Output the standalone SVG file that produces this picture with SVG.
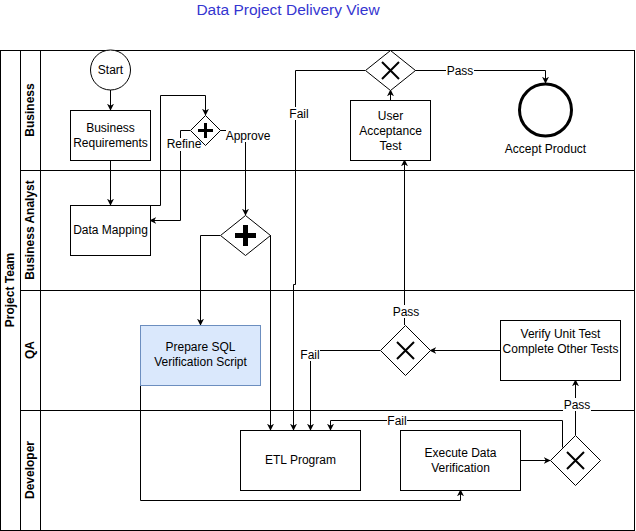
<svg xmlns="http://www.w3.org/2000/svg" width="636" height="531" viewBox="0 0 636 531">
<style>
text{font-family:"Liberation Sans",Arial,sans-serif;font-size:12px;fill:#000}
.title{font-size:15.5px;fill:#3535D0}
.lane{font-weight:bold}
.box{fill:#fff;stroke:#000;stroke-width:1}
.gw{fill:#fff;stroke:#000;stroke-width:1}
.c{fill:none;stroke:#000;stroke-width:1}
.lbl{fill:#fff}
.sym{stroke:#000;stroke-width:3;fill:none}
</style>
<defs>
<marker id="arr" viewBox="0 0 10 10" refX="9" refY="5" markerWidth="7" markerHeight="7" orient="auto-start-reverse" markerUnits="userSpaceOnUse">
<path d="M0,0 L10,5 L0,10 L3,5 Z" fill="#000"/>
</marker>
</defs>
<rect width="636" height="531" fill="#fff"/>
<text class="title" x="288" y="15" text-anchor="middle">Data Project Delivery View</text>

<g id="pool">
<rect x="0.5" y="50.5" width="634" height="480" fill="none" stroke="#000"/>
<line x1="20.5" y1="50" x2="20.5" y2="531" stroke="#000"/>
<line x1="40.5" y1="50" x2="40.5" y2="531" stroke="#000"/>
<line x1="20" y1="170.5" x2="635" y2="170.5" stroke="#000"/>
<line x1="20" y1="290.5" x2="635" y2="290.5" stroke="#000"/>
<line x1="20" y1="410.5" x2="635" y2="410.5" stroke="#000"/>
<text class="lane" transform="translate(14,290) rotate(-90)" text-anchor="middle">Project Team</text>
<text class="lane" transform="translate(34,110) rotate(-90)" text-anchor="middle">Business</text>
<text class="lane" transform="translate(34,230) rotate(-90)" text-anchor="middle">Business Analyst</text>
<text class="lane" transform="translate(34,350) rotate(-90)" text-anchor="middle">QA</text>
<text class="lane" transform="translate(34,470) rotate(-90)" text-anchor="middle">Developer</text>
</g>

<g id="connectors">
<path class="c" d="M110.5,90 V110" marker-end="url(#arr)"/>
<path class="c" d="M110.5,160 V205" marker-end="url(#arr)"/>
<path class="c" d="M150,205.5 H160.5 V95.5 H205.5 V115" marker-end="url(#arr)"/>
<path class="c" d="M190,130.5 H180.5 V220.5 H150" marker-end="url(#arr)"/>
<path class="c" d="M220,130.5 H245.5 V215" marker-end="url(#arr)"/>
<path class="c" d="M220,235.5 H200.5 V325" marker-end="url(#arr)"/>
<path class="c" d="M270.5,235 V430" marker-end="url(#arr)"/>
<path class="c" d="M140.5,385 V500.5 H460.5 V490" marker-end="url(#arr)"/>
<path class="c" d="M520,460.5 H550" marker-end="url(#arr)"/>
<path class="c" d="M562.5,447.5 V420.5 H330.5 V430" marker-end="url(#arr)"/>
<path class="c" d="M575.5,435 V380" marker-end="url(#arr)"/>
<path class="c" d="M500,350.5 H430" marker-end="url(#arr)"/>
<path class="c" d="M380,350.5 H310.5 V430" marker-end="url(#arr)"/>
<path class="c" d="M404.5,325 V160" marker-end="url(#arr)"/>
<path class="c" d="M390.5,100 V90" marker-end="url(#arr)"/>
<path class="c" d="M365,70.5 H295.5 V284.5 H293.5 V430" marker-end="url(#arr)"/>
<path class="c" d="M415,70.5 H545.5 V83" marker-end="url(#arr)"/>
<rect class="lbl" x="166" y="138" width="36" height="13"/>
<text x="184" y="148" text-anchor="middle">Refine</text>
<rect class="lbl" x="226" y="129" width="44" height="13"/>
<text x="248" y="140" text-anchor="middle">Approve</text>
<rect class="lbl" x="446" y="64" width="28" height="13"/>
<text x="460" y="75" text-anchor="middle">Pass</text>
<rect class="lbl" x="289" y="107" width="20" height="13"/>
<text x="299" y="118" text-anchor="middle">Fail</text>
<rect class="lbl" x="391" y="305" width="28" height="13"/>
<text x="406" y="316" text-anchor="middle">Pass</text>
<rect class="lbl" x="300" y="348" width="20" height="13"/>
<text x="310" y="359" text-anchor="middle">Fail</text>
<rect class="lbl" x="387" y="414" width="20" height="13"/>
<text x="397" y="425" text-anchor="middle">Fail</text>
<rect class="lbl" x="563" y="398" width="28" height="13"/>
<text x="577" y="409" text-anchor="middle">Pass</text>
</g>

<g id="start">
<circle cx="110.5" cy="70" r="20" fill="#fff" stroke="#000"/>
<text x="110.5" y="74" text-anchor="middle">Start</text>
</g>
<g id="business-requirements">
<rect class="box" x="70.5" y="110.5" width="80" height="50"/>
<text x="110.5" y="132" text-anchor="middle">Business</text>
<text x="110.5" y="147" text-anchor="middle">Requirements</text>
</g>
<g id="data-mapping">
<rect class="box" x="70.5" y="205.5" width="80" height="50"/>
<text x="110.5" y="234" text-anchor="middle">Data Mapping</text>
</g>
<g id="gateway-refine">
<path class="gw" d="M205.5,115.5 L220.5,130.5 L205.5,145.5 L190.5,130.5 Z"/>
<path class="sym" d="M205.5,123 V138 M198,130.5 H213"/>
</g>
<g id="gateway-parallel">
<path class="gw" d="M245.5,215.5 L270.5,235.5 L245.5,255.5 L220.5,235.5 Z"/>
<path d="M245.5,225 V246 M235,235.5 H256" stroke="#000" stroke-width="5" fill="none"/>
</g>
<g id="prepare-sql">
<rect x="140.5" y="325.5" width="120" height="60" fill="#dae8fc" stroke="#6c8ebf"/>
<text x="200.5" y="351" text-anchor="middle">Prepare SQL</text>
<text x="200.5" y="366" text-anchor="middle">Verification Script</text>
</g>
<g id="etl-program">
<rect class="box" x="240.5" y="430.5" width="120" height="60"/>
<text x="300.5" y="464" text-anchor="middle">ETL Program</text>
</g>
<g id="execute-data-verification">
<rect class="box" x="400.5" y="430.5" width="120" height="60"/>
<text x="460.5" y="457" text-anchor="middle">Execute Data</text>
<text x="460.5" y="472" text-anchor="middle">Verification</text>
</g>
<g id="gateway-dev">
<path class="gw" d="M575.5,435.5 L600.5,460.5 L575.5,485.5 L550.5,460.5 Z"/>
<path d="M567,452 L584,469 M584,452 L567,469" stroke="#000" stroke-width="2"/>
</g>
<g id="verify-unit-test">
<rect class="box" x="500.5" y="320.5" width="120" height="60"/>
<text x="560.5" y="338" text-anchor="middle">Verify Unit Test</text>
<text x="560.5" y="353" text-anchor="middle">Complete Other Tests</text>
</g>
<g id="gateway-qa">
<path class="gw" d="M405.5,325.5 L430.5,350.5 L405.5,375.5 L380.5,350.5 Z"/>
<path d="M397,342 L414,359 M414,342 L397,359" stroke="#000" stroke-width="2"/>
</g>
<g id="user-acceptance-test">
<rect class="box" x="350.5" y="100.5" width="80" height="60"/>
<text x="390.5" y="120" text-anchor="middle">User</text>
<text x="390.5" y="135" text-anchor="middle">Acceptance</text>
<text x="390.5" y="150" text-anchor="middle">Test</text>
</g>
<g id="gateway-business">
<path class="gw" d="M390.5,50.5 L415.5,70.5 L390.5,90.5 L365.5,70.5 Z"/>
<path d="M382,62 L399,79 M399,62 L382,79" stroke="#000" stroke-width="2"/>
</g>
<g id="accept-product">
<circle cx="545.5" cy="110" r="26" fill="#fff" stroke="#000" stroke-width="3"/>
<text x="545.5" y="153" text-anchor="middle">Accept Product</text>
</g>
</svg>
